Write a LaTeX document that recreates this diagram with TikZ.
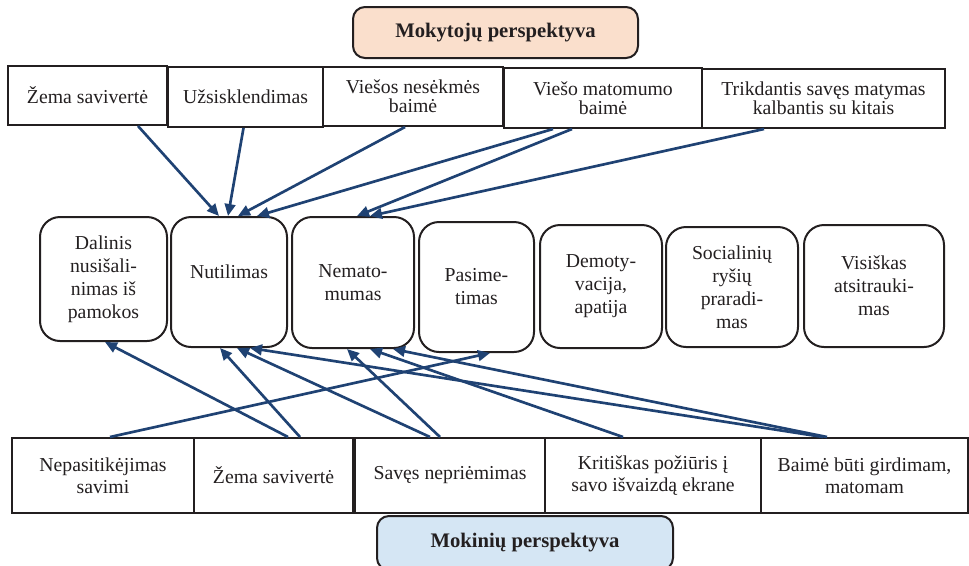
\documentclass[tikz,border=0pt]{standalone}
\usepackage{fontspec}
\setmainfont{Liberation Serif}
\usetikzlibrary{arrows.meta,calc}
\definecolor{arrowblue}{HTML}{1F4273}
\definecolor{edge}{HTML}{231F20}
\definecolor{peach}{HTML}{FADFCC}
\definecolor{paleblue}{HTML}{D5E6F4}

\begin{document}
\begin{tikzpicture}[x=0.75pt,y=-0.75pt,
  every node/.style={text=edge},
  sz/.style 2 args={minimum width=#1*0.75pt, minimum height=#2*0.75pt},
  sqbox/.style={draw=edge, line width=1.5pt, inner sep=0pt, align=center},
  topbox/.style={sqbox, font=\fontsize{14.8}{14}\selectfont},
  botbox/.style={sqbox, font=\fontsize{14.8}{16.5}\selectfont},
  midbox/.style={draw=edge, line width=1.5pt, rounded corners=15pt, inner sep=0pt,
                 align=center, font=\fontsize{14.8}{17.25}\selectfont},
  midtext/.style={inner sep=0pt, align=center, font=\fontsize{14.8}{17.25}\selectfont},
  header/.style={draw=edge, line width=1.5pt, rounded corners=9pt, inner sep=0pt,
                 font=\fontsize{15.5}{18}\selectfont\bfseries},
  link/.style={draw=arrowblue, line width=2pt, -{Triangle[length=9pt,width=8pt]}},
]
\useasboundingbox (0,0) rectangle (969,565);
\begin{scope}
\clip (0,0) rectangle (969,565);

% perspective headers
\node[header, fill=peach, sz={285}{51}] (hteach) at (495.5,32.5) {Mokytojų perspektyva};
\node[header, fill=paleblue, sz={296}{54}] (hstud) at (525,543) {};
\node[font=\fontsize{15.5}{18}\selectfont\bfseries] (hstudt) at (525,543) {Mokinių perspektyva};

% teacher-side causes
\node[topbox, sz={159}{59}] (t1) at (87.5,95.5) {Žema savivertė};
\node[topbox, sz={155}{60}] (t2) at (245.5,97) {Užsisklendimas};
\node[topbox, sz={180}{59}] (t3) at (413,96.5) {Viešos nesėkmės\\baimė};
\node[topbox, sz={198}{60}] (t4) at (603,98) {Viešo matomumo\\baimė};
\node[topbox, sz={243}{59}] (t5) at (823.5,98.5) {Trikdantis savęs matymas\\kalbantis su kitais};

% consequences
\node[midbox, sz={127}{124}] (m1) at (103.5,279) {Dalinis\\nusišali-\\nimas iš\\pamokos};
\node[midbox, sz={116}{130}] (m2) at (229,282) {};
\node[midtext] (m2t) at (229,272) {Nutilimas};
\node[midbox, sz={122}{131}] (m3) at (353,282.5) {Nemato-\\mumas};
\node[midbox, sz={115}{130}] (m4) at (476.5,287) {Pasime-\\timas};
\node[midbox, sz={122}{123}] (m5) at (601,286.5) {Demoty-\\vacija,\\apatija};
\node[midbox, sz={132}{120}] (m6) at (732,287) {Socialinių\\ryšių\\praradi-\\mas};
\node[midbox, sz={140}{122}] (m7) at (874,286) {Visiškas\\atsitrauki-\\mas};

% student-side causes
\node[botbox, sz={182}{75}] (b1) at (103,475.5) {Nepasitikėjimas\\savimi};
\node[botbox, sz={159}{75}] (b2) at (273.5,475.5) {Žema savivertė};
\node[botbox, sz={190}{75}] (b3) at (450,475.5) {Savęs nepriėmimas};
\node[botbox, sz={216}{75}] (b4) at (653,475.5) {Kritiškas požiūris į\\savo išvaizdą ekrane};
\node[botbox, sz={207}{75}] (b5) at (864.5,475.5) {Baimė būti girdimam,\\matomam};

% teacher-side links
\draw[link] ($(t1.south)+(50.5,0)$) -- ($(m2.north)+(-10,0)$);
\draw[link] ($(t2.south)+(-2,0)$) -- ($(m2.north)+(-1,0)$);
\draw[link] ($(t3.south)+(-8,0)$) -- ($(m2.north)+(9,0)$);
\draw[link] ($(t4.south)+(-50,0)$) -- ($(m2.north)+(28,0)$);
\draw[link] ($(t4.south)+(-31,0)$) -- ($(m3.north)+(4,0)$);
\draw[link] ($(t5.south)+(-59.5,0)$) -- ($(m3.north)+(17,0)$);

% student-side links
\draw[link] ($(b2.north)+(14.5,0)$) -- ($(m1.south)+(1.5,0)$);
\draw[link] ($(b2.north)+(26.5,0)$) -- ($(m2.south)+(-9,0)$);
\draw[link] ($(b3.north)+(-20,0)$) -- ($(m2.south)+(8,0)$);
\draw[link] ($(b5.north)+(-41.5,0)$) -- ($(m2.south)+(21,0)$);
\draw[link] ($(b3.north)+(-10,0)$) -- ($(m3.south)+(-6,0)$);
\draw[link] ($(b4.north)+(-30,0)$) -- ($(m3.south)+(17,0)$);
\draw[link] ($(b5.north)+(-37.5,0)$) -- ($(m3.south)+(40,0)$);
\draw[link] ($(b1.north)+(7,0)$) -- ($(m4.south)+(13.5,0)$);
\end{scope}
\end{tikzpicture}
\end{document}
